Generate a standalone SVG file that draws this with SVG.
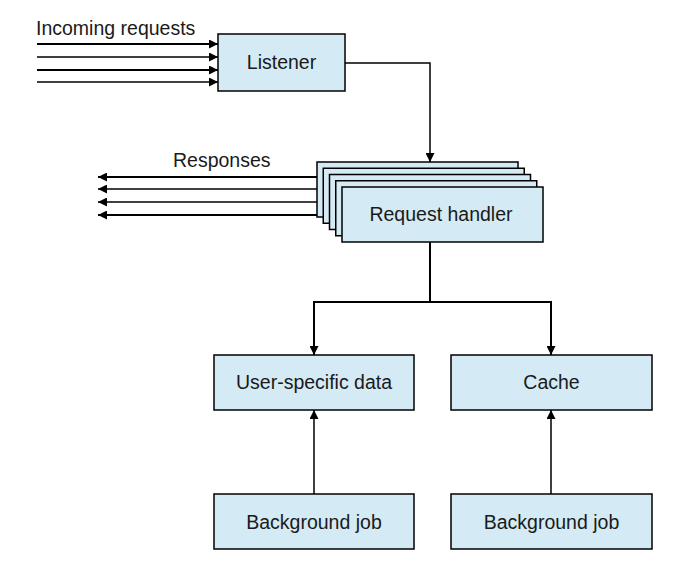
<svg xmlns="http://www.w3.org/2000/svg" width="699" height="574" viewBox="0 0 699 574">
  <style>
    .box { fill: #d4eaf5; stroke: #000; stroke-width: 1.5; }
    .lbl { font-family: "Liberation Sans", Arial, sans-serif; font-size: 19.5px; fill: #1a1a1a; }
    .mid { text-anchor: middle; }
    .wire { fill: none; stroke: #000; stroke-width: 1.5; }
    .thick { stroke-width: 2; }
  </style>
  <defs>
    <marker id="arrow" viewBox="0 0 10 10" refX="10" refY="5" markerWidth="15" markerHeight="9" markerUnits="userSpaceOnUse" orient="auto">
      <path d="M0,0 L10,5 L0,10 Z" fill="#000"/>
    </marker>
  </defs>

  <rect width="699" height="574" fill="#fff"/>

  <text class="lbl" x="36" y="35">Incoming requests</text>
  <text class="lbl" x="173" y="167">Responses</text>

  <g id="connectors">
    <!-- incoming requests -->
    <line class="wire thick" x1="37" y1="44" x2="218" y2="44" marker-end="url(#arrow)"/>
    <line class="wire" x1="37" y1="57" x2="218" y2="57" marker-end="url(#arrow)"/>
    <line class="wire thick" x1="37" y1="70" x2="218" y2="70" marker-end="url(#arrow)"/>
    <line class="wire" x1="37" y1="82" x2="218" y2="82" marker-end="url(#arrow)"/>
    <!-- listener to handler -->
    <path class="wire" d="M345,63 H430 V162" marker-end="url(#arrow)"/>
    <!-- responses -->
    <line class="wire thick" x1="317" y1="177" x2="98" y2="177" marker-end="url(#arrow)"/>
    <line class="wire" x1="317" y1="189" x2="98" y2="189" marker-end="url(#arrow)"/>
    <line class="wire" x1="317" y1="202" x2="98" y2="202" marker-end="url(#arrow)"/>
    <line class="wire thick" x1="317" y1="215" x2="98" y2="215" marker-end="url(#arrow)"/>
    <!-- handler to stores -->
    <path class="wire thick" d="M430,242 V302 H314 V355" marker-end="url(#arrow)"/>
    <path class="wire thick" d="M430,302 H551 V355" marker-end="url(#arrow)"/>
    <!-- background jobs -->
    <line class="wire" x1="314" y1="494" x2="314" y2="410" marker-end="url(#arrow)"/>
    <line class="wire" x1="551" y1="494" x2="551" y2="410" marker-end="url(#arrow)"/>
  </g>

  <g id="listener">
    <rect class="box" x="218" y="34" width="127" height="57"/>
    <text class="lbl mid" x="281.5" y="69">Listener</text>
  </g>

  <g id="request-handler">
    <rect class="box" x="317" y="162" width="201" height="55"/>
    <rect class="box" x="323.25" y="168.25" width="201" height="55"/>
    <rect class="box" x="329.5" y="174.5" width="201" height="55"/>
    <rect class="box" x="335.75" y="180.75" width="201" height="55"/>
    <rect class="box" x="342" y="187" width="201" height="55"/>
    <text class="lbl mid" x="441" y="221">Request handler</text>
  </g>

  <g id="user-data">
    <rect class="box" x="214" y="355" width="200" height="55"/>
    <text class="lbl mid" x="314" y="389">User-specific data</text>
  </g>

  <g id="cache">
    <rect class="box" x="451" y="355" width="201" height="55"/>
    <text class="lbl mid" x="551.5" y="389">Cache</text>
  </g>

  <g id="job-user">
    <rect class="box" x="214" y="494" width="200" height="55"/>
    <text class="lbl mid" x="314" y="529">Background job</text>
  </g>

  <g id="job-cache">
    <rect class="box" x="451" y="494" width="201" height="55"/>
    <text class="lbl mid" x="551.5" y="529">Background job</text>
  </g>
</svg>
